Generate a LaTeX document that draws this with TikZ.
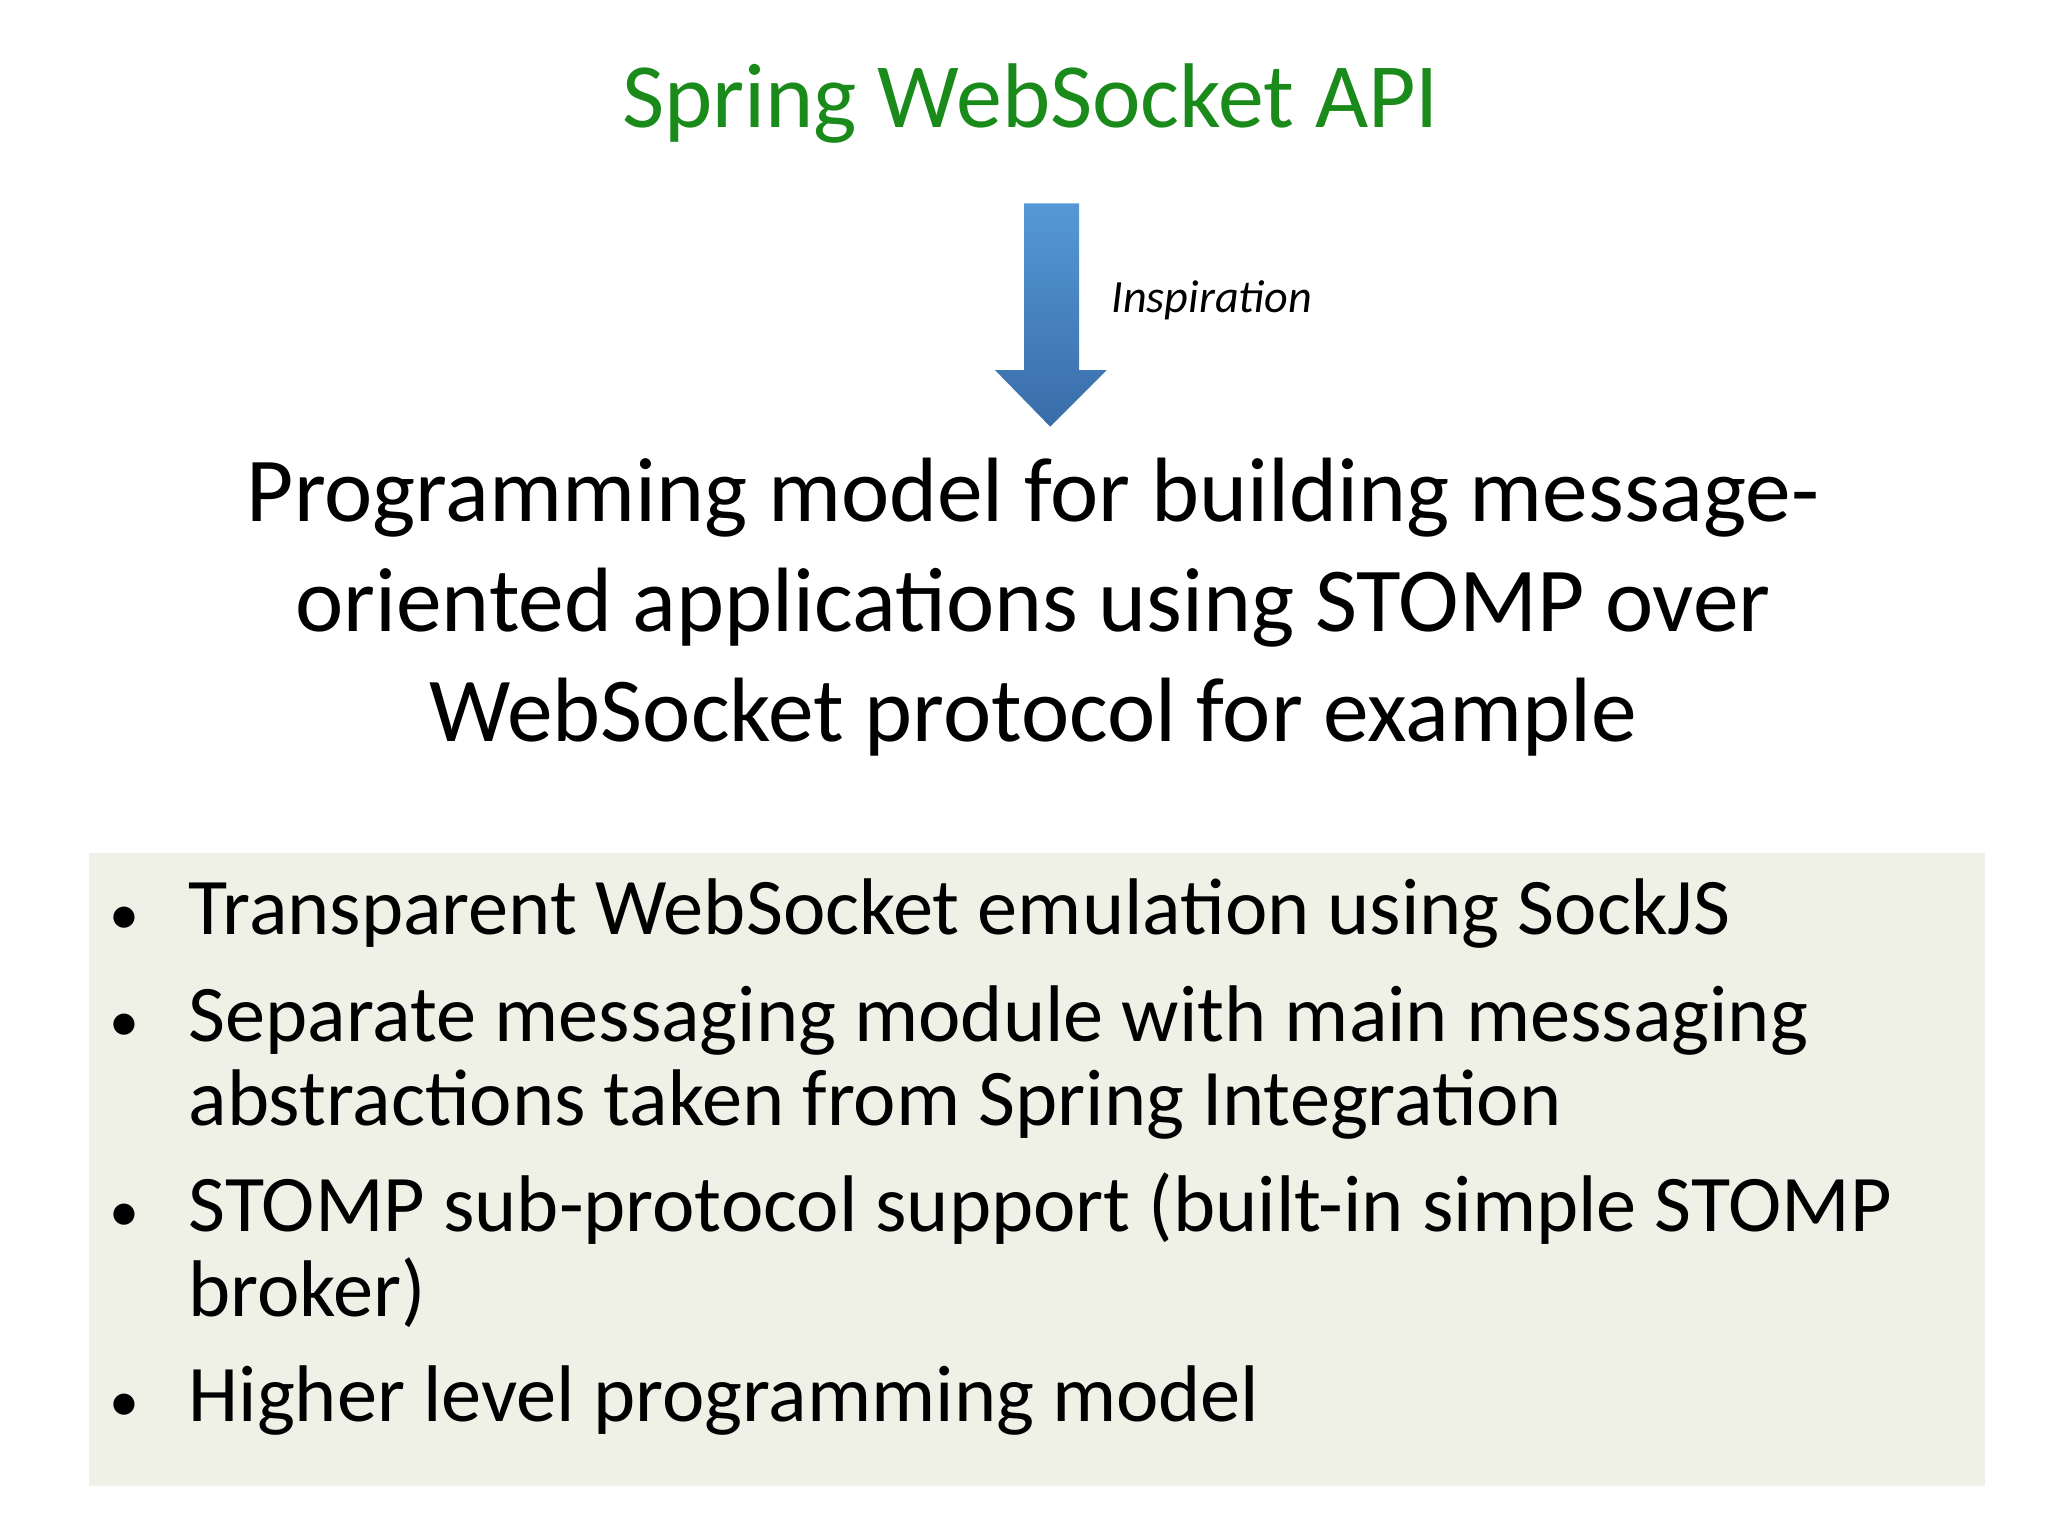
\documentclass[tikz,border=0pt]{standalone}
\usepackage{fontspec}
\setmainfont{Carlito}
\begin{document}
\begin{tikzpicture}[x=0.01cm,y=-0.01cm,
  body/.style={anchor=base west,inner sep=0pt,font=\fontsize{17.4pt}{21pt}\selectfont},
  bul/.style={anchor=base,inner sep=0pt,font=\fontsize{13pt}{16pt}\selectfont}]
\useasboundingbox (0,0) rectangle (1560,1170);
\definecolor{boxbg}{HTML}{EFF0E6}
\definecolor{ttl}{HTML}{1A8A1A}
\node[inner sep=0pt,anchor=base,font=\fontsize{19.9pt}{23pt}\selectfont,text=ttl] (title) at (785,97) {Spring WebSocket API};
\shade[top color={rgb,255:red,86;green,152;blue,215}, bottom color={rgb,255:red,56;green,108;blue,168}]
  (780,155) -- (822,155) -- (822,282) -- (843,282) -- (800,325) -- (758,282) -- (780,282) -- cycle;
\coordinate (arrowtop) at (800,155);
\node[inner sep=0pt,anchor=base west,font=\fontsize{10pt}{12pt}\selectfont\itshape] (insp) at (846,238) {Inspiration};
\node[inner sep=0pt,align=center,font=\fontsize{19.8pt}{23.8pt}\selectfont,anchor=north] (main) at (787,348)
 {Programming model for building message-\\oriented applications using STOMP over\\WebSocket protocol for example};
\fill[boxbg] (68,650) rectangle (1512,1132);
\foreach \y/\t [count=\i] in {712/{Transparent WebSocket emulation using SockJS},
  793/{Separate messaging module with main messaging},
  857/{abstractions taken from Spring Integration},
  938/{STOMP sub-protocol support (built-in simple STOMP},
  1003/{broker)},
  1083/{Higher level programming model}}
  \node[body] (l\i) at (143,\y) {\t};
\foreach \y [count=\i] in {712,793,938,1083} \node[bul] (b\i) at (95,\y) {•};
\end{tikzpicture}
\end{document}
